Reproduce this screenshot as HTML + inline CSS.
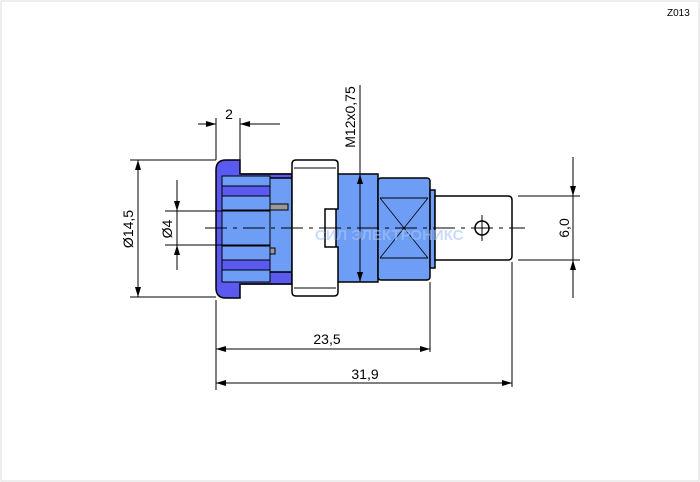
<!DOCTYPE html>
<html><head><style>body{margin:0;background:#fff}svg{display:block}</style></head><body>
<svg width="700" height="482" viewBox="0 0 700 482" xmlns="http://www.w3.org/2000/svg" font-family="Liberation Sans, sans-serif">
<defs>
<marker id="a" viewBox="0 0 10 6" refX="10" refY="3" markerWidth="10" markerHeight="6" orient="auto-start-reverse" markerUnits="userSpaceOnUse"><path d="M0,0L10,3L0,6z" fill="#000"/></marker>
</defs>
<rect x="1" y="1" width="698" height="480" fill="none" stroke="#ddd"/>
<text x="667" y="16" font-size="10">Z013</text>
<g stroke="#000" stroke-width="1.5">
<!-- body behind -->
<rect x="240" y="174" width="52" height="110" fill="#6e9df5"/>
<rect x="222" y="186" width="48" height="10" fill="#5a5af0" stroke-width="1"/>
<rect x="222" y="260" width="48" height="10" fill="#5a5af0" stroke-width="1"/>
<rect x="222" y="246" width="48" height="8" fill="#5a5af0" stroke-width="1"/>
<rect x="270" y="204" width="18" height="6" fill="#999" stroke-width="1"/>
<rect x="270" y="248" width="5" height="6" fill="#999" stroke-width="1"/>
<!-- flange -->
<path d="M226,160H240V174H292V178H240V272H292V284H240V298H226Q216,298 216,288V170Q216,160 226,160Z" fill="#5a5af0"/>
<path d="M222,176H270V282H222Z" fill="#6e9df5" stroke-width="1"/>
<rect x="222" y="186" width="48" height="10" fill="#5a5af0" stroke-width="1"/>
<rect x="222" y="260" width="48" height="10" fill="#5a5af0" stroke-width="1"/>
<rect x="222" y="210" width="48" height="36" fill="#6e9df5" stroke-width="1"/>
<rect x="270" y="204" width="18" height="6" fill="#999" stroke-width="1"/>
<!-- thread part -->
<rect x="336" y="174" width="42" height="108" fill="#6e9df5"/>
<!-- hex -->
<rect x="378" y="178" width="52" height="102" rx="3" fill="#6e9df5"/>
<line x1="380" y1="198" x2="428" y2="198" stroke-width="1"/>
<line x1="380" y1="258" x2="428" y2="258" stroke-width="1"/>
<line x1="380" y1="198" x2="428" y2="258" stroke-width="0.8"/>
<line x1="428" y1="198" x2="380" y2="258" stroke-width="0.8"/>
<rect x="430" y="190" width="5" height="78" fill="#6e9df5"/>
<!-- tab -->
<path d="M435,196H508Q512,196 512,200V256Q512,260 508,260H435Z" fill="#fff"/>
<circle cx="482" cy="228" r="7" fill="none"/>
<line x1="482" y1="215" x2="482" y2="241" stroke-width="1"/>
<!-- nut -->
<path d="M296,160H334Q338,160 338,164V209H325V247H338V292Q338,296 334,296H296Q292,296 292,292V164Q292,160 296,160Z" fill="#fff"/>
<line x1="294" y1="168" x2="336" y2="168" stroke-width="1"/>
<line x1="294" y1="288" x2="336" y2="288" stroke-width="1"/>
</g>
<g stroke="#000" stroke-width="1" fill="none">
<line x1="205" y1="228" x2="525" y2="228" stroke-dasharray="22,6,4,6"/>
<!-- 2 -->
<line x1="216" y1="118" x2="216" y2="160"/><line x1="240" y1="118" x2="240" y2="160"/>
<line x1="198" y1="124" x2="216" y2="124" marker-end="url(#a)"/>
<line x1="280" y1="124" x2="240" y2="124" marker-end="url(#a)"/>
<!-- 14.5 -->
<line x1="130" y1="160" x2="216" y2="160"/><line x1="130" y1="297" x2="216" y2="297"/>
<line x1="138" y1="160" x2="138" y2="297" marker-start="url(#a)" marker-end="url(#a)"/>
<!-- 4 -->
<line x1="165" y1="211" x2="270" y2="211"/><line x1="165" y1="245" x2="270" y2="245"/>
<line x1="177" y1="180" x2="177" y2="211" marker-end="url(#a)"/>
<line x1="177" y1="270" x2="177" y2="245" marker-end="url(#a)"/>
<line x1="177" y1="211" x2="177" y2="245"/>
<!-- M12 -->
<line x1="360" y1="85" x2="360" y2="174"/>
<line x1="360" y1="174" x2="360" y2="282" marker-start="url(#a)" marker-end="url(#a)"/>
<!-- 6.0 -->
<line x1="518" y1="196" x2="580" y2="196"/><line x1="518" y1="260" x2="580" y2="260"/>
<line x1="573" y1="157" x2="573" y2="196" marker-end="url(#a)"/>
<line x1="573" y1="298" x2="573" y2="260" marker-end="url(#a)"/>
<line x1="573" y1="196" x2="573" y2="260"/>
<!-- bottom -->
<line x1="216" y1="300" x2="216" y2="390"/>
<line x1="430" y1="282" x2="430" y2="352"/>
<line x1="512" y1="262" x2="512" y2="387"/>
<line x1="216" y1="349" x2="430" y2="349" marker-start="url(#a)" marker-end="url(#a)"/>
<line x1="216" y1="383" x2="512" y2="383" marker-start="url(#a)" marker-end="url(#a)"/>
</g>
<g font-size="14" fill="#000">
<text x="229" y="119" text-anchor="middle">2</text>
<text x="327" y="344" text-anchor="middle">23,5</text>
<text x="365" y="379" text-anchor="middle">31,9</text>
<text transform="translate(133,229) rotate(-90)" text-anchor="middle">Ø14,5</text>
<text transform="translate(172,229) rotate(-90)" text-anchor="middle">Ø4</text>
<text transform="translate(355,117) rotate(-90)" text-anchor="middle">M12x0,75</text>
<text transform="translate(569,228) rotate(-90)" text-anchor="middle">6,0</text>
</g>
<text x="315" y="240" font-size="15" font-weight="bold" fill="#a8c4f8" opacity="0.6">СИЛ ЭЛЕКТРОНИКС</text>
</svg>
</body></html>
